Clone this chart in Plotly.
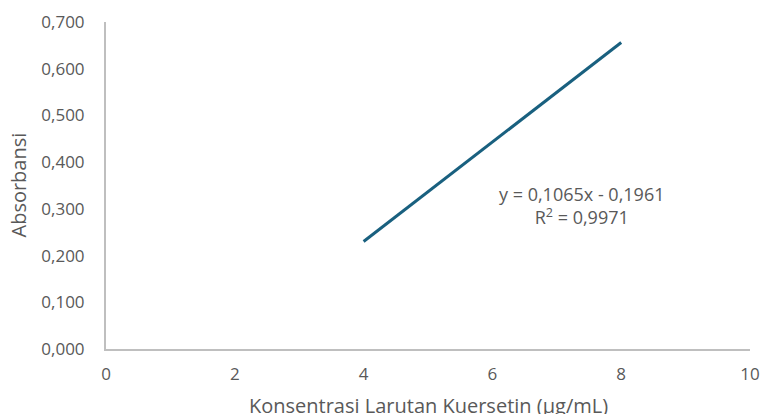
import plotly.graph_objects as go

konsentrasi = [4, 5, 6, 7, 8]
absorbansi = [0.230, 0.336, 0.443, 0.549, 0.656]
x_ticks = [0, 2, 4, 6, 8, 10]
y_ticks = [0.0, 0.1, 0.2, 0.3, 0.4, 0.5, 0.6, 0.7]
persamaan = "y = 0,1065x - 0,1961"
r2 = "R<sup>2</sup> = 0,9971"
judul_x = "Konsentrasi Larutan Kuersetin (µg/mL)"
judul_y = "Absorbansi"

FONT = "Open Sans, Liberation Sans, sans-serif"
GRAY = "#595959"

fig = go.Figure()
fig.add_trace(go.Scatter(
    x=konsentrasi, y=absorbansi, mode="lines",
    line=dict(color="#19607f", width=3), showlegend=False,
))

fig.update_layout(
    width=761, height=414,
    margin=dict(l=106, r=11, t=22, b=65),
    paper_bgcolor="white", plot_bgcolor="white",
    separators=",.",
    font=dict(family=FONT, color=GRAY, size=17),
    xaxis=dict(
        range=[0, 10], tickvals=x_ticks, showgrid=False, zeroline=False,
        showline=True, linecolor="#bfbfbf", linewidth=2, ticks="",
        ticklabelstandoff=9, automargin=False, ticklabeloverflow="allow",
    ),
    yaxis=dict(
        range=[0, 0.7], tickvals=y_ticks, tickformat=".3f", showgrid=False, zeroline=False,
        showline=True, linecolor="#bfbfbf", linewidth=2, ticks="",
        ticklabelstandoff=16, automargin=False, ticklabeloverflow="allow",
    ),
    annotations=[
        dict(x=7.39, y=0.308, xref="x", yref="y", text=persamaan + "<br>" + r2,
             showarrow=False, font=dict(size=18, color=GRAY), align="center",
             xanchor="center", yanchor="middle"),
        dict(x=0, y=0.5, xref="paper", yref="paper", xshift=-88, text=judul_y,
             textangle=-90, showarrow=False, font=dict(size=20, color=GRAY),
             xanchor="center", yanchor="middle"),
        dict(x=0.5, y=0, xref="paper", yref="paper", yshift=-56, text=judul_x,
             showarrow=False, font=dict(size=20, color=GRAY),
             xanchor="center", yanchor="middle"),
    ],
)

fig.write_html(
    "out.html",
    config={"displayModeBar": False},
    post_script="document.body.style.margin='0';document.body.style.overflow='hidden';",
)
